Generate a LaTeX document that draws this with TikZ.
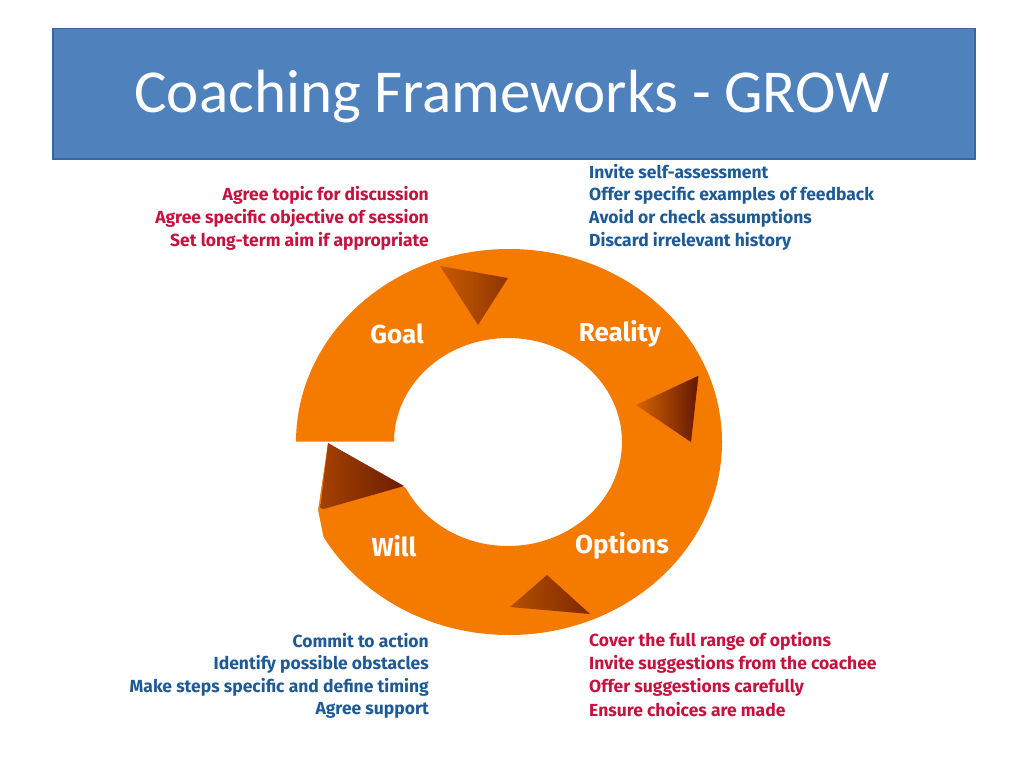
\documentclass[tikz,border=0pt]{standalone}
\usepackage{fontspec}
\setmainfont{Fira Sans}
\newfontfamily\titlefont{Carlito}
\definecolor{ring}{HTML}{F57A00}
\definecolor{dark}{HTML}{5A1000}
\definecolor{red1}{HTML}{C4133F}
\definecolor{blue1}{HTML}{1E5A96}
\definecolor{titlebg}{HTML}{4F81BD}
\definecolor{titlebd}{HTML}{3A679A}
\newcommand{\wedgeshade}[4]{%
  \begin{scope}
    \clip #1;
    \begin{scope}[shift={#2}, rotate=#3]
      \shade[left color=ring, right color=dark] (-#4,-120) rectangle (0,120);
    \end{scope}
  \end{scope}}
\begin{document}
\begin{tikzpicture}[x=1pt,y=-1pt,
  item/.style={font=\fontsize{17.5}{23}\selectfont\bfseries, inner sep=0pt},
  lab/.style={font=\fontsize{26}{30}\selectfont\bfseries, text=white, inner sep=0pt}]
\useasboundingbox (0,0) rectangle (1024,768);
\fill[white] (0,0) rectangle (1024,768);
\node[draw=titlebd, line width=1.5pt, fill=titlebg, minimum width=922pt, minimum height=130pt, anchor=north west, inner sep=0pt] (title) at (52,28) {};
\node[font=\titlefont\fontsize{61}{66}\selectfont, text=white] (tt) at (512,97) {Coaching Frameworks - GROW};
% ring
\fill[ring, even odd rule] (509,442) ellipse [x radius=213pt, y radius=193pt] (508,442) ellipse [x radius=114pt, y radius=104pt];
\fill[white] (285,441.5) -- (398,441.5) -- (406,488) -- (328,443) -- (318,510) -- (325,545) -- (285,545) -- cycle;
% shadows
\wedgeshade{(440,266) -- (508,278) -- (478,325) -- cycle}{(508,278)}{-32.5}{70}
\wedgeshade{(700,375) -- (691,442) -- (636,405) -- cycle}{(691,442)}{-6.4}{60}
\wedgeshade{(510,607) -- (547,575) -- (590,614) -- cycle}{(510,607)}{131}{60}
\wedgeshade{(328,443) -- (404,486) -- (320,510) -- cycle}{(328,443)}{60.5}{60}
% labels
\node[lab] (goal) at (397,334) {Goal};
\node[lab] (reality) at (620,334) {Reality};
\node[lab] (will) at (394,546) {Will};
\node[lab] (options) at (622,546) {Options};
% lists
\node[item, text=red1, anchor=east] (g1) at (429,195) {Agree topic for discussion};
\node[item, text=red1, anchor=east] (g2) at (429,218) {Agree specific objective of session};
\node[item, text=red1, anchor=east] (g3) at (429,241) {Set long-term aim if appropriate};
\node[item, text=blue1, anchor=west] (r1) at (589,172) {Invite self-assessment};
\node[item, text=blue1, anchor=west] (r2) at (589,195) {Offer specific examples of feedback};
\node[item, text=blue1, anchor=west] (r3) at (589,218) {Avoid or check assumptions};
\node[item, text=blue1, anchor=west] (r4) at (589,241) {Discard irrelevant history};
\node[item, text=blue1, anchor=east] (w1) at (429,641) {Commit to action};
\node[item, text=blue1, anchor=east] (w2) at (429,664) {Identify possible obstacles};
\node[item, text=blue1, anchor=east] (w3) at (429,687) {Make steps specific and define timing};
\node[item, text=blue1, anchor=east] (w4) at (429,710) {Agree support};
\node[item, text=red1, anchor=west] (o1) at (589,641) {Cover the full range of options};
\node[item, text=red1, anchor=west] (o2) at (589,664) {Invite suggestions from the coachee};
\node[item, text=red1, anchor=west] (o3) at (589,687) {Offer suggestions carefully};
\node[item, text=red1, anchor=west] (o4) at (589,710) {Ensure choices are made};
\end{tikzpicture}
\end{document}
